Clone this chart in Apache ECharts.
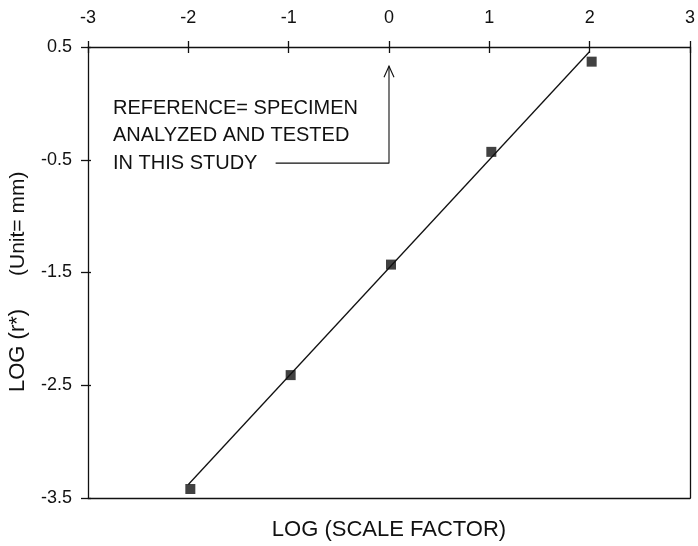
<!DOCTYPE html>
<html><head><meta charset="utf-8">
<script src="https://cdn.jsdelivr.net/npm/echarts@6/dist/echarts.min.js"></script>
<style>html,body{margin:0;padding:0;background:#fff}#c{width:698px;height:546px}</style>
</head><body><div id="c"></div>
<script>
const scaleFactor = [-2, -1, 0, 1, 2];
const logR = [-3.42, -2.41, -1.43, -0.43, 0.37];
const fitX = [-2, 2];
const fitY = [-3.38, 0.46];
const xTicks = [-3, -2, -1, 0, 1, 2, 3];
const yTicks = [0.5, -0.5, -1.5, -2.5, -3.5];
const noteLines = ['REFERENCE= SPECIMEN', 'ANALYZED AND TESTED', 'IN THIS STUDY'];
const arrowPath = [[-1.13, -0.53], [0, -0.53], [0, 0.33]];

const FONT = '"Liberation Sans", Arial, sans-serif';
const INK = '#111';
const chart = echarts.init(document.getElementById('c'), null, {renderer: 'canvas'});
const lineStyle = {color: INK, width: 1.3};
const axBase = {type: 'value', min: -3, max: 3, interval: 1, splitLine: {show: false}};
const yBase = {type: 'value', min: -3.5, max: 0.5, interval: 1, splitLine: {show: false}};
chart.setOption({
  animation: false,
  backgroundColor: '#fff',
  grid: {left: 88, right: 4, top: 47, bottom: 46},
  xAxis: [
    Object.assign({}, axBase, {position: 'top', axisLine: {onZero: false, lineStyle},
      axisTick: {show: true, inside: false, length: 6, lineStyle},
      axisLabel: {show: true, margin: 20, fontSize: 18, color: INK, fontFamily: FONT,
        formatter: v => xTicks.includes(v) ? String(v) : ''}}),
    Object.assign({}, axBase, {position: 'top', axisLine: {show: false, onZero: false},
      axisTick: {show: true, inside: true, length: 6, lineStyle}, axisLabel: {show: false}}),
    Object.assign({}, axBase, {position: 'bottom', axisLine: {onZero: false, lineStyle},
      axisTick: {show: false}, axisLabel: {show: false},
      name: 'LOG (SCALE FACTOR)', nameLocation: 'middle', nameGap: 21,
      nameTextStyle: {fontSize: 22, color: INK, fontFamily: FONT}})
  ],
  yAxis: [
    Object.assign({}, yBase, {position: 'left', axisLine: {onZero: false, lineStyle},
      axisTick: {show: true, length: 7, lineStyle},
      axisLabel: {margin: 16, fontSize: 18, color: INK, fontFamily: FONT,
        formatter: v => yTicks.some(t => Math.abs(t - v) < 1e-9) ? v.toFixed(1) : ''}}),
    Object.assign({}, yBase, {position: 'left', axisLine: {show: false, onZero: false},
      axisTick: {show: true, inside: true, length: 3, lineStyle}, axisLabel: {show: false}}),
    Object.assign({}, yBase, {position: 'right', axisLine: {onZero: false, lineStyle},
      axisTick: {show: false}, axisLabel: {show: false}})
  ],
  series: [
    {type: 'line', xAxisIndex: 0, yAxisIndex: 0, data: fitX.map((x, i) => [x, fitY[i]]), symbol: 'none',
      lineStyle: {color: INK, width: 1.3}, z: 2, silent: true},
    {type: 'scatter', xAxisIndex: 0, yAxisIndex: 0, data: scaleFactor.map((x, i) => [x, logR[i]]),
      symbol: 'rect', symbolSize: 10, symbolOffset: [2, 0], itemStyle: {color: INK}, z: 3},
    {type: 'line', xAxisIndex: 0, yAxisIndex: 0, data: arrowPath, symbol: 'none',
      lineStyle: {color: INK, width: 1.1}, z: 2, silent: true}
  ]
});

const tip = chart.convertToPixel({xAxisIndex: 0, yAxisIndex: 0}, arrowPath[arrowPath.length - 1]);
const graphics = [
  {type: 'polyline', shape: {points: [[tip[0] - 5, tip[1] + 11], [tip[0], tip[1]], [tip[0] + 5, tip[1] + 11]]},
    style: {stroke: INK, lineWidth: 1.1, fill: null}},
  {type: 'text', x: 18, y: 392, rotation: Math.PI / 2,
    style: {text: 'LOG (r*)', fontSize: 22, fill: INK, fontFamily: FONT, align: 'left', verticalAlign: 'middle'}},
  {type: 'text', x: 18, y: 276, rotation: Math.PI / 2,
    style: {text: '(Unit= mm)', fontSize: 21, fill: INK, fontFamily: FONT, align: 'left', verticalAlign: 'middle'}}
];
noteLines.forEach((t, i) => {
  graphics.push({type: 'text', x: 113, y: 108 + i * 27.5,
    style: {text: t, fontSize: 20, fill: INK, fontFamily: FONT, align: 'left', verticalAlign: 'middle'}});
});
chart.setOption({graphic: graphics});
</script></body></html>
